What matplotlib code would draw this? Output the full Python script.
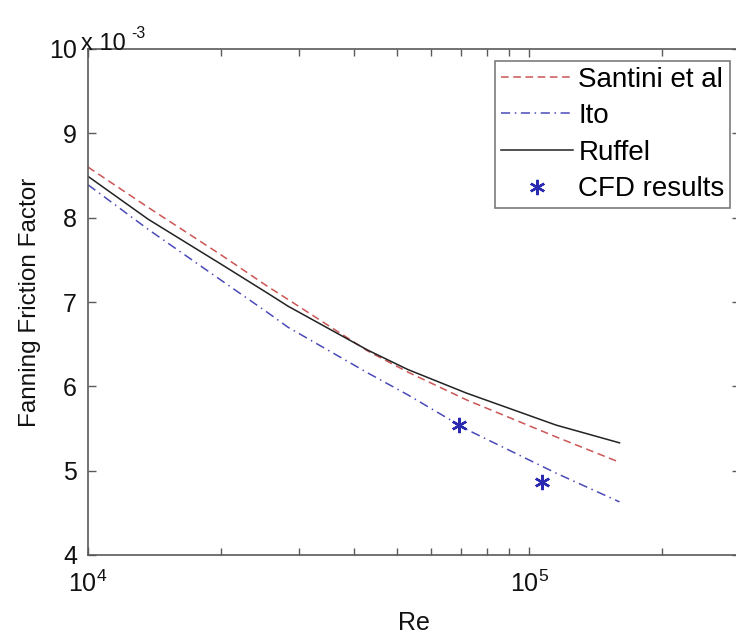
import matplotlib
matplotlib.use("Agg")
import matplotlib.pyplot as plt
from matplotlib.ticker import LogLocator, FixedLocator, NullFormatter

plt.rcParams['font.family'] = ['Liberation Sans', 'DejaVu Sans']
plt.rcParams['mathtext.fontset'] = 'custom'
plt.rcParams['mathtext.rm'] = 'Liberation Sans'
plt.rcParams['mathtext.it'] = 'Liberation Sans:italic'

# Data (friction factor in units of 1e-3)
re_curve = [1.0e4, 1.37e4, 2.0e4, 2.56e4, 2.84e4, 4.3e4, 5.3e4, 7.2e4, 1.15e5, 1.6e5]
santini = [8.60, 8.12, 7.56, 7.18, 7.03, 6.42, 6.17, 5.84, 5.40, 5.10]
ito     = [8.39, 7.86, 7.26, 6.87, 6.70, 6.16, 5.90, 5.49, 4.97, 4.63]
ruffel  = [8.49, 7.98, 7.45, 7.10, 6.95, 6.43, 6.20, 5.92, 5.54, 5.33]
re_cfd = [6.94e4, 1.07e5]
f_cfd  = [5.54, 4.87]

W, H = 736, 636
fig = plt.figure(figsize=(W/100, H/100), dpi=100)
left, right, top, bottom = 88, 740, 49, 555
ax = fig.add_axes([left/W, 1-bottom/H, (right-left)/W, (bottom-top)/H])

ax.plot(re_curve, santini, linestyle=(0, (5, 3)), color='#cc5555', lw=1.1, label='Santini et al')
ax.plot(re_curve, ito, linestyle=(0, (6, 3, 1, 3)), color='#4a4ab8', lw=1.1, label='Ito')
ax.plot(re_curve, ruffel, linestyle='-', color='#222222', lw=1.1, label='Ruffel')
ax.plot(re_cfd, f_cfd, linestyle='none', marker=(6, 2, 0), markersize=11,
        markeredgewidth=1.7, color='#2a2ab0', label='CFD results')

ax.set_xscale('log')
ax.set_xlim(1e4, 3e5)
ax.set_ylim(4, 10)
ax.set_yticks([4, 5, 6, 7, 8, 9, 10])
ax.xaxis.set_major_locator(FixedLocator([1e4, 1e5]))
ax.xaxis.set_minor_locator(LogLocator(base=10, subs=range(2, 10)))
ax.xaxis.set_minor_formatter(NullFormatter())

spine_col = '#5a5a5a'
for s in ax.spines.values():
    s.set_color(spine_col)
    s.set_linewidth(1.2)
ax.tick_params(which='both', direction='in', top=True, right=True, colors=spine_col,
               labelcolor='#111111', labelsize=18)
ax.tick_params(which='major', length=6, width=1)
ax.tick_params(which='minor', length=5, width=1)
ax.tick_params(axis='y', pad=8)
ax.tick_params(axis='x', pad=11)

ax.set_xlabel('Re', fontsize=18, color='#111111', labelpad=10)
ax.set_ylabel('Fanning Friction Factor', fontsize=17.5, color='#111111', labelpad=6)

fig.text(81/W, 1-55/H, 'x 10', fontsize=17, color='#111111', ha='left', va='bottom')
fig.text(131/W, 1-41/H, '-3', fontsize=11.5, color='#111111', ha='left', va='bottom')

leg = ax.legend(loc='upper left', bbox_to_anchor=(495/W, 1-61/H), bbox_transform=fig.transFigure,
                fontsize=20, frameon=True, fancybox=False, borderpad=0.2,
                handlelength=2.6, handletextpad=0.2, labelspacing=0.38, borderaxespad=0)
leg.get_frame().set_edgecolor(spine_col)
leg.get_frame().set_linewidth(1.2)

fig.savefig('out.png', dpi=100)
